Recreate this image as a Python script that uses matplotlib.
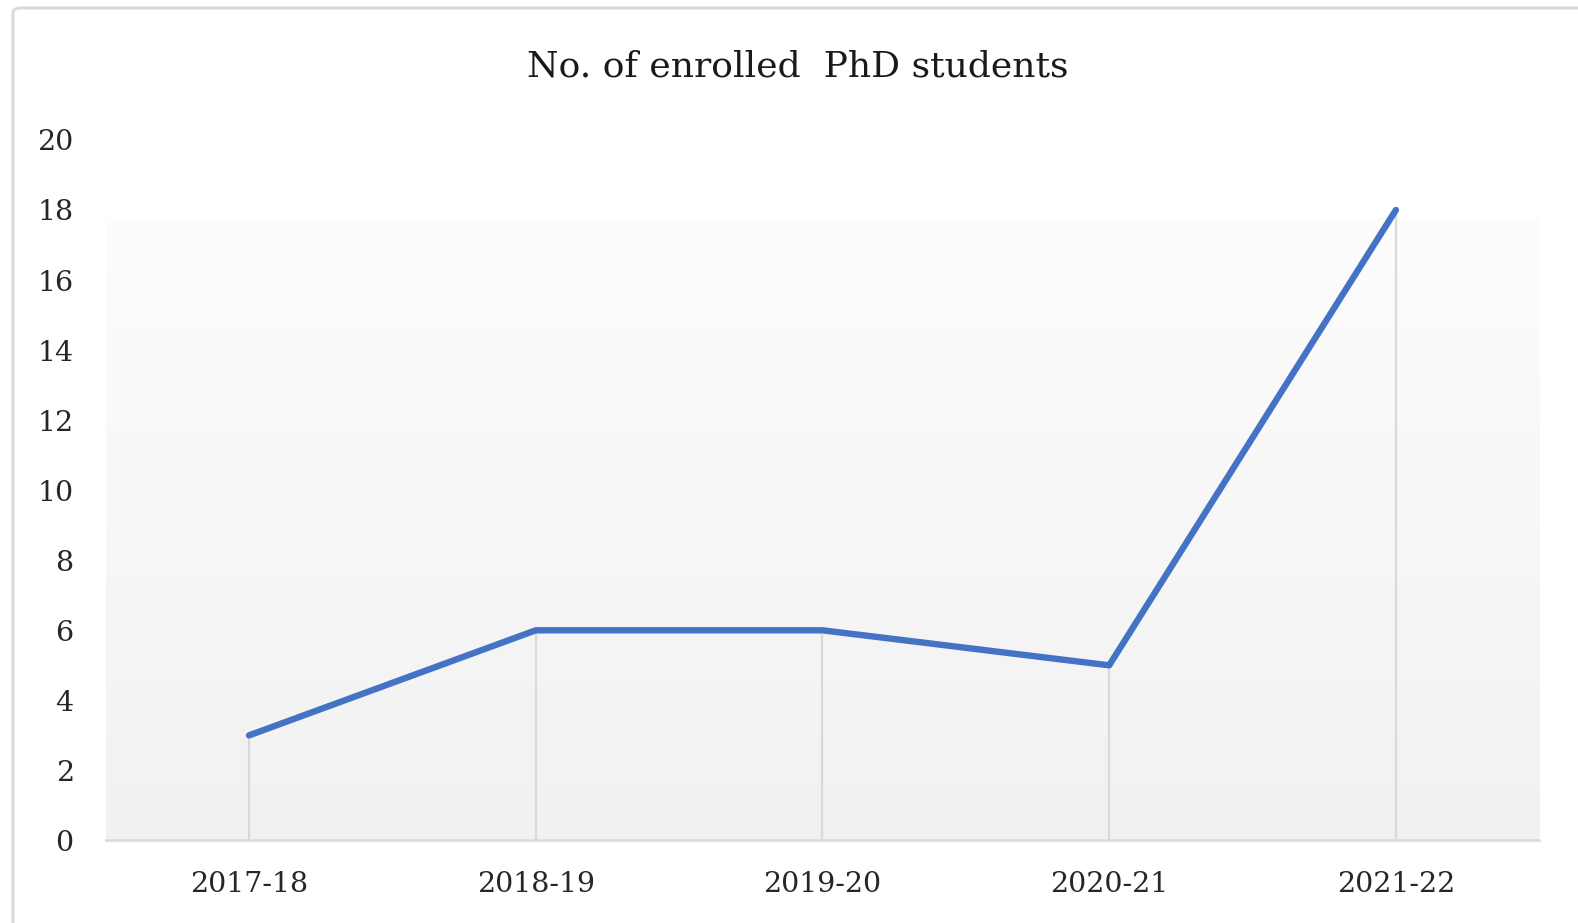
import numpy as np
import matplotlib
matplotlib.use("Agg")
import matplotlib.pyplot as plt
from matplotlib.colors import LinearSegmentedColormap
from matplotlib.patches import FancyBboxPatch

categories = ["2017-18", "2018-19", "2019-20", "2020-21", "2021-22"]
students = [3, 6, 6, 5, 18]
yticks = list(range(0, 21, 2))
title = "No. of enrolled  PhD students"

FONT = ["DejaVu Serif"]
W, H = 1578, 923
fig = plt.figure(figsize=(W / 100, H / 100), dpi=100)
fig.patch.set_facecolor("white")

# chart border
border = FancyBboxPatch((13 / W, -0.05), 1.2, 1.05 - 8 / H,
                        boxstyle="round,pad=0,rounding_size=0.005",
                        transform=fig.transFigure, facecolor="none",
                        edgecolor="#D9D9D9", linewidth=2.2)
fig.add_artist(border)

left = 105 / 1568
right = 1529.5 / 1568
bottom = 1 - 835 / 917
top = 1 - 139 / 917
ax = fig.add_axes([left, bottom, right - left, top - bottom])
ax.set_facecolor("none")

x = np.arange(len(categories))
ax.set_xlim(-0.5, len(categories) - 0.5)
ax.set_ylim(0, 20)

# gradient background
cmap = LinearSegmentedColormap.from_list("g", ["#F1F1F1", "#FDFDFD"])
grad = np.linspace(0, 1, 256).reshape(-1, 1)
ax.imshow(grad, cmap=cmap, origin="lower", aspect="auto",
          extent=(-0.5, len(categories) - 0.5, 0, 17.75), zorder=0,
          interpolation="bilinear")

# drop lines
ax.vlines(x, 0, students, colors="#D9D9D9", linewidth=1.6, zorder=1)

ax.plot(x, students, color="#4472C4", linewidth=4.6,
        solid_capstyle="round", solid_joinstyle="round", zorder=3)

for s in ["top", "right", "left"]:
    ax.spines[s].set_visible(False)
ax.spines["bottom"].set_color("#D9D9D9")
ax.spines["bottom"].set_linewidth(1.8)
ax.spines["bottom"].set_zorder(2)

ax.set_xticks(x)
ax.set_xticklabels(categories, family=FONT, fontsize=20.5, color="#262626")
ax.set_yticks(yticks)
ax.set_yticklabels([str(v) for v in yticks], family=FONT, fontsize=20.5,
                   color="#262626")
ax.tick_params(axis="both", length=0)
ax.tick_params(axis="x", pad=22)
ax.tick_params(axis="y", pad=23)

fig.text(793 / 1568, 1 - 66 / 917, title, ha="center", va="center",
         family=FONT, fontsize=26, color="#1a1a1a")

fig.savefig("out.png", dpi=100)
